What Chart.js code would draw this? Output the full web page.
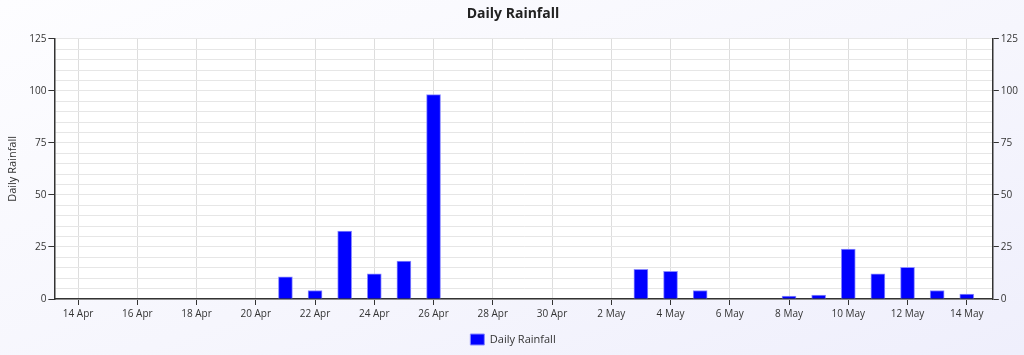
<!DOCTYPE html>
<html>
<head>
<meta charset="utf-8">
<title>Daily Rainfall</title>
<script src="https://cdn.jsdelivr.net/npm/chart.js@4/dist/chart.umd.min.js"></script>
<style>
  html, body { margin: 0; padding: 0; }
  body {
    width: 1024px; height: 355px; overflow: hidden;
    background: linear-gradient(160deg, #fdfdff 0%, #f6f6fd 55%, #efeffc 100%);
  }
  #wrap { position: relative; width: 1024px; height: 355px; }
</style>
</head>
<body>
<div id="wrap"><canvas id="rainChart"></canvas></div>
<script>
// Daily Rainfall — bar chart on a day axis, mirrored y axis on the right
(function () {
  "use strict";

  var FONT = "'Open Sans', 'DejaVu Sans', sans-serif";

  // rain days (other days are dry)
  var dates = [
    "2024-04-21", "2024-04-22", "2024-04-23", "2024-04-24", "2024-04-25", "2024-04-26",
    "2024-05-03", "2024-05-04", "2024-05-05", "2024-05-08", "2024-05-09", "2024-05-10",
    "2024-05-11", "2024-05-12", "2024-05-13", "2024-05-14"
  ];
  var rainfall = [10.7, 4.1, 32.6, 12.1, 18.2, 98.2, 14.2, 13.3, 4.1, 1.4, 1.9, 24, 12.1, 15.2, 4.1, 2.4];

  var monthNames = ["Jan", "Feb", "Mar", "Apr", "May", "Jun", "Jul", "Aug", "Sep", "Oct", "Nov", "Dec"];
  var yTicks = [0, 25, 50, 75, 100, 125];

  var origin = Date.UTC(2024, 3, 14); // 14 Apr = day 0
  var DAY = 86400000;

  function dayNum(str) {
    var p = str.split("-");
    return (Date.UTC(+p[0], +p[1] - 1, +p[2]) - origin) / DAY;
  }

  function dayLabel(v) {
    var d = new Date(origin + v * DAY);
    return d.getUTCDate() + " " + monthNames[d.getUTCMonth()];
  }

  var points = dates.map(function (ds, i) {
    return { x: dayNum(ds), y: rainfall[i] };
  });

  // white plot area on the tinted page
  var plotBg = {
    id: "plotBg",
    beforeDraw: function (chart) {
      var a = chart.chartArea, ctx = chart.ctx;
      ctx.save();
      ctx.fillStyle = "#ffffff";
      ctx.fillRect(a.left, a.top, a.right - a.left, a.bottom - a.top);
      ctx.restore();
    }
  };

  function yTickCb(v) {
    return yTicks.indexOf(v) >= 0 ? String(v) : "";
  }
  function yTickColor(c) {
    return c.tick && yTicks.indexOf(c.tick.value) >= 0 ? "#333" : "rgba(0,0,0,0)";
  }

  var ctx = document.getElementById("rainChart").getContext("2d");
  new Chart(ctx, {
    type: "bar",
    data: {
      datasets: [{
        label: "Daily Rainfall",
        data: points,
        backgroundColor: "#0000ff",
        borderColor: "#8a8aff",
        borderWidth: 1,
        borderSkipped: "bottom",
        barThickness: 14,
        yAxisID: "y"
      }]
    },
    options: {
      responsive: true,
      maintainAspectRatio: false,
      animation: false,
      layout: { padding: { left: 6, right: 4, top: 0, bottom: 0 } },
      plugins: {
        title: {
          display: true,
          text: "Daily Rainfall",
          color: "#222",
          font: { family: FONT, size: 14, weight: "bold" },
          padding: { top: 6, bottom: 16 }
        },
        legend: {
          position: "bottom",
          labels: {
            color: "#333",
            font: { family: FONT, size: 11 },
            boxWidth: 14,
            boxHeight: 11,
            padding: 11
          }
        },
        tooltip: { enabled: false }
      },
      scales: {
        x: {
          type: "linear",
          offset: false,
          min: -0.8,
          max: 30.88,
          grid: { offset: false, color: "#dddddd", tickColor: "#333", tickLength: 6 },
          border: { color: "#333", width: 1.5 },
          ticks: {
            stepSize: 2,
            includeBounds: false,
            autoSkip: false,
            maxRotation: 0,
            color: "#333",
            padding: 3,
            font: { family: FONT, size: 10 },
            callback: function (v) { return dayLabel(v); }
          }
        },
        y: {
          position: "left",
          min: 0,
          max: 125,
          grid: { color: "#e6e6e6", tickColor: yTickColor, tickLength: 6 },
          border: { color: "#333", width: 1.5 },
          title: {
            display: true,
            text: "Daily Rainfall",
            color: "#333",
            font: { family: FONT, size: 11 },
            padding: { top: 0, bottom: 8 }
          },
          ticks: {
            stepSize: 5,
            autoSkip: false,
            color: "#333",
            padding: 2,
            font: { family: FONT, size: 10 },
            callback: yTickCb
          }
        },
        y2: {
          position: "right",
          min: 0,
          max: 125,
          grid: { drawOnChartArea: false, tickColor: yTickColor, tickLength: 6 },
          border: { color: "#333", width: 1.5 },
          ticks: {
            stepSize: 5,
            autoSkip: false,
            color: "#333",
            padding: 2,
            font: { family: FONT, size: 10 },
            callback: yTickCb
          }
        }
      }
    },
    plugins: [plotBg]
  });
})();
</script>
</body>
</html>
